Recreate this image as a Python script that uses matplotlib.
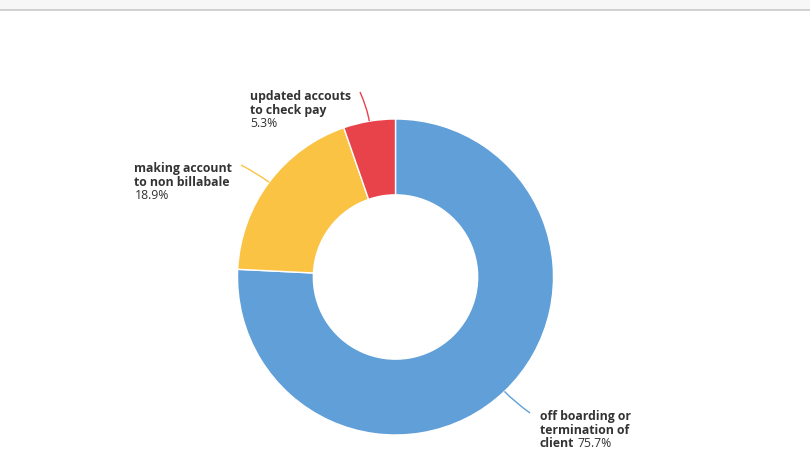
import matplotlib
matplotlib.use("Agg")
import matplotlib.pyplot as plt
import numpy as np
from matplotlib.path import Path
from matplotlib.patches import PathPatch, Rectangle

# ---- data ----
labels = ["off boarding or termination of client",
          "making account to non billabale",
          "updated accouts to check pay"]
values = [75.7, 18.9, 5.3]
colors = ["#609fd8", "#fbc343", "#e8434a"]
label_lines = [["off boarding or", "termination of", "client"],
               ["making account", "to non billabale"],
               ["updated accouts", "to check pay"]]
pct_text = ["75.7%", "18.9%", "5.3%"]

W, H = 810, 473
fig = plt.figure(figsize=(W / 100, H / 100), dpi=100)
ax = fig.add_axes([0, 0, 1, 1])

cx, cy, R = 395.5, H - 277, 158
wedges, _ = ax.pie(values, colors=colors, startangle=90, counterclock=False,
                   center=(cx, cy), radius=R,
                   wedgeprops=dict(width=R * 0.48, edgecolor="white", linewidth=1))
ax.set_xlim(0, W)
ax.set_ylim(0, H)
ax.set_aspect("auto")
ax.axis("off")

# top band
ax.add_patch(Rectangle((0, H - 10), W, 10, facecolor="#f7f7f7", edgecolor="none"))
ax.plot([0, W], [H - 10.5, H - 10.5], color="#c9c9c9", lw=1.2)

# label layout (pixel positions: x start, first baseline y)
label_pos = [(540, 420), (134.5, 172), (250, 100)]
conn_end = [(530, 413), (241, 165), (360, 92)]
line_h = 13.6
fs = 8.8
txt_col = "#333333"
fam = ["Open Sans", "DejaVu Sans"]

fig.canvas.draw()
renderer = fig.canvas.get_renderer()

for i, w in enumerate(wedges):
    ang = np.deg2rad((w.theta1 + w.theta2) / 2)
    ex, ey = cx + R * np.cos(ang), cy + R * np.sin(ang)
    ctrl = (cx + (R + 14) * np.cos(ang), cy + (R + 14) * np.sin(ang))
    endx, endy = conn_end[i]
    endy = H - endy
    path = Path([(ex, ey), ctrl, (endx, endy)], [Path.MOVETO, Path.CURVE3, Path.CURVE3])
    ax.add_patch(PathPatch(path, facecolor="none", edgecolor=colors[i], lw=1))

    lx, ly = label_pos[i]
    lines = label_lines[i]
    last = None
    for j, ln in enumerate(lines):
        last = ax.text(lx, H - (ly + j * line_h), ln, fontsize=fs, fontweight="bold",
                       family=fam, color=txt_col, ha="left", va="baseline")
    if i == 0:
        bb = last.get_window_extent(renderer)
        ax.text(bb.x1 + 3.5, H - (ly + (len(lines) - 1) * line_h), pct_text[i],
                fontsize=fs, family=fam, color=txt_col, ha="left", va="baseline")
    else:
        ax.text(lx, H - (ly + len(lines) * line_h), pct_text[i], fontsize=fs,
                family=fam, color=txt_col, ha="left", va="baseline")

fig.savefig("out.png", dpi=100, facecolor="white")
